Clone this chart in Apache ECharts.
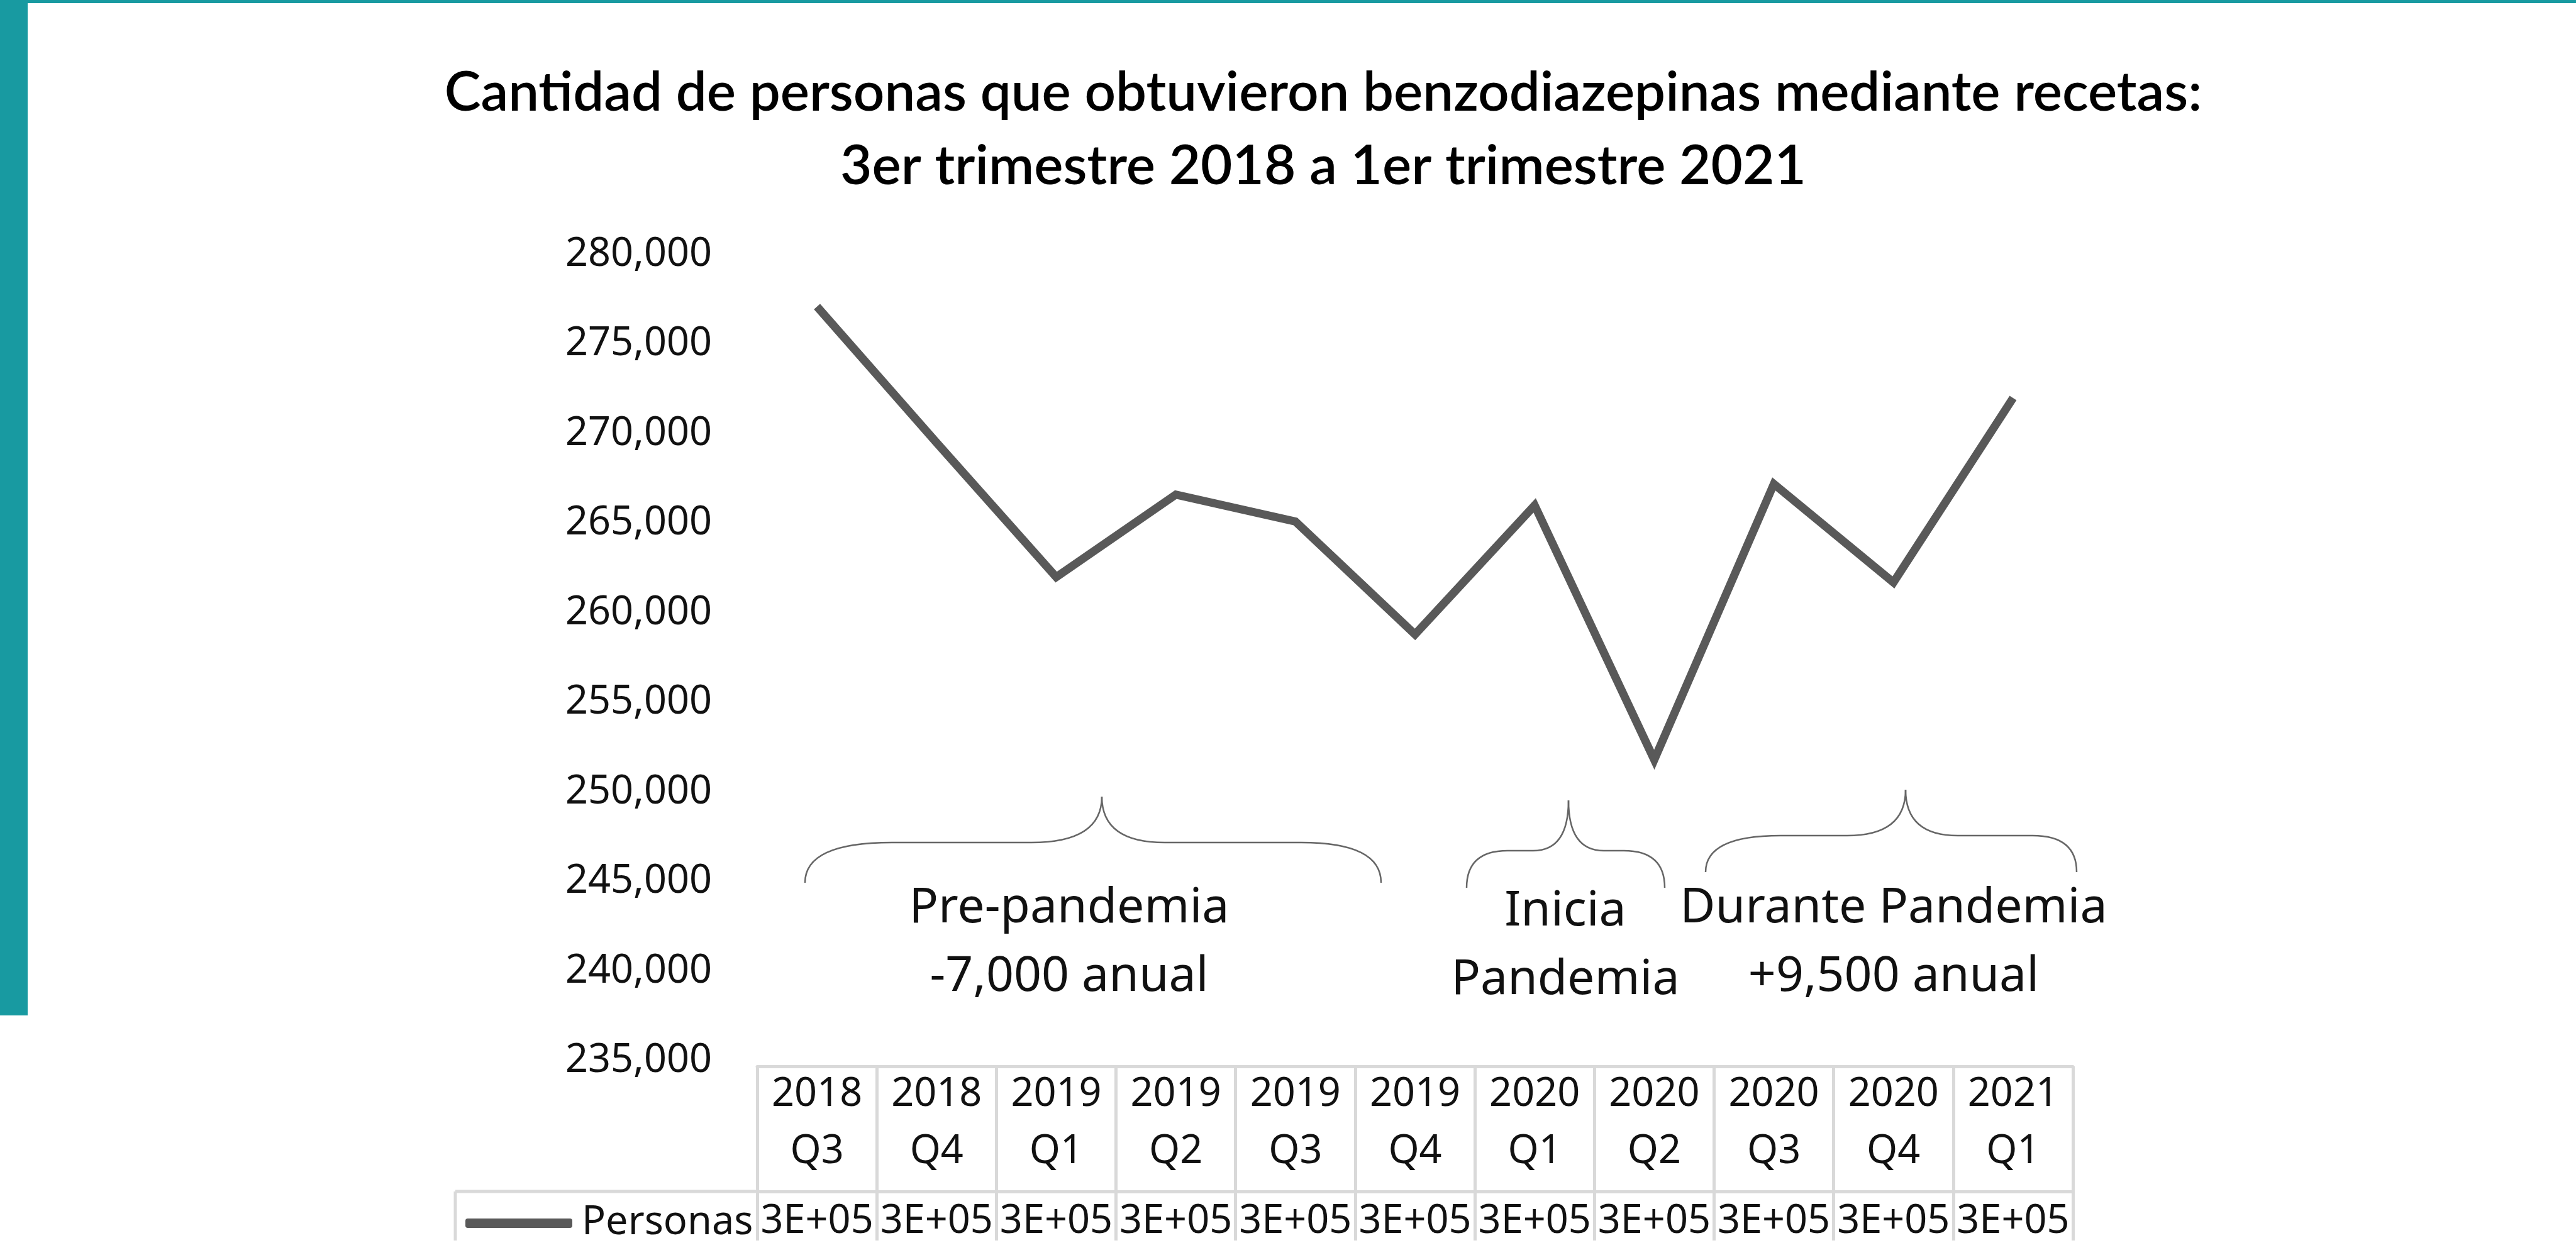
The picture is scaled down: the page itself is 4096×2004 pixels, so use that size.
<!DOCTYPE html>
<html>
<head>
<meta charset="utf-8">
<title>Benzodiazepinas por trimestre</title>
<script src="https://cdn.jsdelivr.net/npm/echarts@6/dist/echarts.min.js"></script>
<style>
  html, body { margin: 0; padding: 0; background: #fff; }
  #chart { width: 4096px; height: 2004px; }
</style>
</head>
<body>
<div id="chart"></div>
<script>
// datos
const years = ['2018', '2018', '2019', '2019', '2019', '2019', '2020', '2020', '2020', '2020', '2021'];
const quarters = ['Q3', 'Q4', 'Q1', 'Q2', 'Q3', 'Q4', 'Q1', 'Q2', 'Q3', 'Q4', 'Q1'];
const personas = [277100, 269500, 262000, 266600, 265100, 258800, 266000, 251800, 267200, 261700, 272000];
const yTicks = [235000, 280000, 5000]; // min, max, paso

const categories = years.map((y, i) => y + '\n' + quarters[i]);

const TEAL = '#189aa1';
const LINE = '#595959';
const BORDER = '#d9d9d9';
const TEXT = '#111';
const FONT = '"Noto Sans", sans-serif';

// formato cientifico tipo Excel: 3E+05
const excelSci = v => {
  const [m, e] = Number(v).toExponential(0).toUpperCase().split('E');
  const sign = e[0] === '-' ? '-' : '+';
  return m + 'E' + sign + e.replace(/^[+-]/, '').padStart(2, '0');
};

// llave horizontal (abre hacia abajo)
const brace = (x0, x1, xm, yb, yf, yt, rL, rR, r2L, r2R) => {
  const style = { stroke: '#666', lineWidth: 2.5, fill: null };
  const bz = (a, b, c, d, e, f) => ({ type: 'bezierCurve', shape: { x1: a, y1: b, cpx1: c, cpy1: d, x2: e, y2: f }, style });
  const ln = (a, b, c, d) => ({ type: 'line', shape: { x1: a, y1: b, x2: c, y2: d }, style });
  return {
    type: 'group',
    children: [
      bz(x0, yb, x0, yf, x0 + rL, yf),
      ln(x0 + rL, yf, xm - r2L, yf),
      bz(xm - r2L, yf, xm, yf, xm, yt),
      bz(xm, yt, xm, yf, xm + r2R, yf),
      ln(xm + r2R, yf, x1 - rR, yf),
      bz(x1 - rR, yf, x1, yf, x1, yb)
    ]
  };
};

const note = (x, y, text) => ({
  type: 'text', x, y,
  style: { text, fill: TEXT, font: '77px ' + FONT, align: 'center', verticalAlign: 'top', lineHeight: 109 }
});

const chart = echarts.init(document.getElementById('chart'));

chart.setOption({
  backgroundColor: '#fff',
  animation: false,
  title: {
    text: 'Cantidad de personas que obtuvieron benzodiazepinas mediante recetas:\n3er trimestre 2018 a 1er trimestre 2021',
    left: 2099,
    top: 84,
    textAlign: 'center',
    textStyle: { fontFamily: 'Lato', fontWeight: 600, fontSize: 87, lineHeight: 117, color: '#000' }
  },
  legend: {
    data: ['Personas'],
    left: 740,
    top: 1914,
    padding: 0,
    icon: 'roundRect',
    itemWidth: 170,
    itemHeight: 15,
    textStyle: { fontFamily: FONT, fontSize: 63, lineHeight: 63, color: TEXT, padding: [0, 0, 0, 10] }
  },
  grid: { left: 1204, top: 405, width: 2092, height: 1282 },
  xAxis: [
    {
      type: 'category',
      data: categories,
      offset: 9,
      axisLine: { show: true, lineStyle: { color: BORDER, width: 5 } },
      axisTick: { show: true, interval: 0, length: 199, lineStyle: { color: BORDER, width: 5 } },
      axisLabel: { interval: 0, margin: 0, fontFamily: FONT, fontSize: 63, lineHeight: 91, color: TEXT },
      splitLine: { show: false }
    },
    {
      type: 'category',
      data: personas.map(String),
      position: 'bottom',
      offset: 208,
      axisLine: { show: true, lineStyle: { color: BORDER, width: 5 } },
      axisTick: { show: true, interval: 0, length: 78, lineStyle: { color: BORDER, width: 5 } },
      axisLabel: { interval: 0, margin: 17, fontFamily: FONT, fontSize: 63, lineHeight: 63, color: TEXT, formatter: excelSci },
      splitLine: { show: false }
    }
  ],
  yAxis: {
    type: 'value',
    min: yTicks[0],
    max: yTicks[1],
    interval: yTicks[2],
    axisLine: { show: false },
    axisTick: { show: false },
    splitLine: { show: false },
    axisLabel: {
      margin: 72,
      fontFamily: FONT,
      fontSize: 63,
      color: TEXT,
      formatter: v => v.toLocaleString('en-US')
    }
  },
  series: [{
    name: 'Personas',
    type: 'line',
    xAxisIndex: 0,
    data: personas,
    symbol: 'none',
    lineStyle: { color: LINE, width: 13, join: 'miter' },
    itemStyle: { color: LINE }
  }],
  graphic: [
    // marco turquesa
    { type: 'rect', shape: { x: 0, y: 0, width: 4096, height: 5 }, style: { fill: TEAL } },
    { type: 'rect', shape: { x: 0, y: 0, width: 44, height: 1615 }, style: { fill: TEAL } },
    // borde de la celda de leyenda
    { type: 'line', shape: { x1: 724, y1: 1895, x2: 1204, y2: 1895 }, style: { stroke: BORDER, lineWidth: 5 } },
    { type: 'line', shape: { x1: 724, y1: 1895, x2: 724, y2: 1973 }, style: { stroke: BORDER, lineWidth: 5 } },
    // llaves
    brace(1280, 2196, 1752, 1404, 1340, 1267, 138, 127, 112, 100),
    brace(2332, 2647, 2494, 1412, 1353, 1273, 65, 65, 56, 56),
    brace(2712, 3302, 3030, 1387, 1329, 1256, 119, 70, 93, 83),
    note(1700, 1391, 'Pre-pandemia\n-7,000 anual'),
    note(2489, 1396, 'Inicia\nPandemia'),
    note(3011, 1391, 'Durante Pandemia\n+9,500 anual')
  ]
});
</script>
</body>
</html>
